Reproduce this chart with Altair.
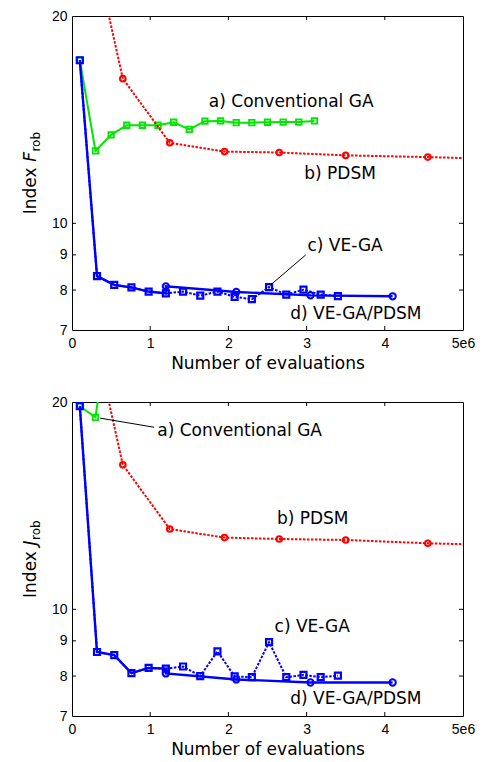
import altair as alt
import pandas as pd

# ---------------- data ----------------
ga_x = [0.1e6, 0.3e6, 0.5e6, 0.7e6, 0.9e6, 1.1e6, 1.3e6, 1.5e6, 1.7e6, 1.9e6,
        2.1e6, 2.3e6, 2.5e6, 2.7e6, 2.9e6, 3.1e6]
ga_F = [17.25, 12.74, 13.44, 13.88, 13.88, 13.88, 14.02, 13.69, 14.07, 14.08,
        14.00, 14.00, 14.02, 14.03, 14.03, 14.08]
ga_J = [19.72, 19.00, 27.5, 28.4, 28.8, 29.0, 28.9, 29.1, 29.0, 29.2,
        29.1, 29.2, 29.3, 29.2, 29.3, 29.3]

pdsm_x = [0.1e6, 0.65e6, 1.25e6, 1.95e6, 2.65e6, 3.5e6, 4.55e6, 5.6e6]
pdsm_F = [31.0, 16.22, 13.09, 12.71, 12.67, 12.55, 12.48, 12.38]
pdsm_J = [31.0, 16.21, 13.08, 12.71, 12.65, 12.61, 12.47, 12.38]

vega_x = [0.1e6, 0.32e6, 0.54e6, 0.76e6, 0.98e6, 1.2e6, 1.42e6, 1.64e6,
          1.86e6, 2.08e6, 2.3e6, 2.52e6, 2.74e6, 2.96e6, 3.18e6, 3.4e6]
vega_F = [17.25, 8.38, 8.14, 8.07, 7.96, 7.91, 7.96, 7.85, 7.96, 7.82, 7.76,
          8.08, 7.88, 8.01, 7.88, 7.84]
vega_J = [19.72, 8.67, 8.58, 8.08, 8.22, 8.20, 8.26, 8.00, 8.69, 7.99, 7.97,
          8.96, 7.97, 8.03, 7.97, 8.01]

hyb_shared = 6  # VE-GA/PDSM shares the first VE-GA points, then PDSM (circles)
hyb_x = [1.2e6, 2.1e6, 3.05e6, 4.1e6]
hyb_F = [8.10, 7.95, 7.86, 7.835]
hyb_J = [8.07, 7.91, 7.83, 7.83]

label_text = ["a) Conventional GA", "b) PDSM", "c) VE-GA", "d) VE-GA/PDSM"]
label_x_F = [1.75e6, 2.97e6, 3.01e6, 2.79e6]
label_y_F = [15.0, 11.79, 9.27, 7.39]
label_x_J = [1.09e6, 2.62e6, 2.59e6, 2.79e6]
label_y_J = [18.17, 13.51, 9.43, 7.42]

pointer_F = {"x": [2.99e6], "y": [9.0], "x2": [2.53e6], "y2": [8.12]}
pointer_J = {"x": [1.05e6], "y": [18.38], "x2": [0.36e6], "y2": [18.95]}

x_ticks = [0, 1e6, 2e6, 3e6, 4e6, 5e6]
x_inner_ticks = [1e6, 2e6, 3e6, 4e6]
y_ticks = [7, 8, 9, 10, 20]
y_inner_ticks = [8, 9, 10]

# ---------------- style ----------------
W, H = 391, 314
GREEN = "#00e600"
RED = "#ff0000"
BLUE = "#0000ff"
TEXTFONT = "DejaVu Sans"
TICKFONT = "Liberation Sans"

xscale = alt.Scale(domain=[0, 5e6], nice=False, zero=False)
yscale = alt.Scale(type="log", domain=[7, 20], nice=False)

xaxis = alt.Axis(values=x_ticks,
                 labelExpr="datum.value == 5000000 ? '5e6' : format(datum.value / 1000000, 'd')",
                 tickSize=0, domain=False, grid=False,
                 labelFont=TICKFONT, labelFontSize=14, labelColor="black",
                 labelPadding=6, labelFlush=False,
                 title="Number of evaluations", titleFont=TEXTFONT,
                 titleFontSize=17, titleFontWeight="normal", titleColor="black",
                 titlePadding=5)
yaxis = alt.Axis(values=y_ticks, format="d", tickSize=0, domain=False,
                 grid=False, labelFont=TICKFONT, labelFontSize=14,
                 labelColor="black", labelPadding=5, labelFlush=False,
                 title=None)


def X(f="x"):
    return alt.X(f"{f}:Q", scale=xscale, axis=xaxis)


def Y(f="y"):
    return alt.Y(f"{f}:Q", scale=yscale, axis=yaxis)


def panel(ga_y, pdsm_y, vega_y, hyb_y, lab_x, lab_y, pointer, letter):
    ga = pd.DataFrame({"x": ga_x, "y": ga_y})
    pdsm = pd.DataFrame({"x": pdsm_x, "y": pdsm_y})
    vega = pd.DataFrame({"x": vega_x, "y": vega_y})
    hx = vega_x[:hyb_shared] + hyb_x
    hy = vega_y[:hyb_shared] + hyb_y
    hyb = pd.DataFrame({"x": hx, "y": hy, "o": list(range(len(hx)))})
    hcirc = pd.DataFrame({"x": hyb_x, "y": hyb_y})
    labs = pd.DataFrame({"x": lab_x, "y": lab_y, "t": label_text})
    ptr = pd.DataFrame(pointer)
    xt = pd.DataFrame({"x": x_inner_ticks})
    yt = pd.DataFrame({"y": y_inner_ticks})

    layers = []
    layers.append(alt.Chart(ga).mark_line(color=GREEN, strokeWidth=2, clip=True)
                  .encode(x=X(), y=Y()))
    layers.append(alt.Chart(ga).mark_point(shape="square", filled=False, size=30,
                                           strokeWidth=1.8, color=GREEN, opacity=1, clip=True)
                  .encode(x=X(), y=Y()))
    layers.append(alt.Chart(pdsm).mark_line(color=RED, strokeWidth=2,
                                            strokeDash=[2.5, 1.5], clip=True)
                  .encode(x=X(), y=Y()))
    layers.append(alt.Chart(pdsm).mark_point(shape="circle", filled=False, size=32,
                                             strokeWidth=2, color=RED, opacity=1, clip=True)
                  .encode(x=X(), y=Y()))
    layers.append(alt.Chart(vega).mark_line(color=BLUE, strokeWidth=2,
                                            strokeDash=[2.5, 1.5], clip=True)
                  .encode(x=X(), y=Y()))
    layers.append(alt.Chart(hyb).mark_line(color=BLUE, strokeWidth=2.4, clip=True)
                  .encode(x=X(), y=Y(), order="o:Q"))
    layers.append(alt.Chart(vega).mark_point(shape="square", filled=False, size=36,
                                             strokeWidth=2.2, color=BLUE, opacity=1, clip=True)
                  .encode(x=X(), y=Y()))
    layers.append(alt.Chart(hcirc).mark_point(shape="circle", filled=False, size=40,
                                              strokeWidth=2, color=BLUE, opacity=1, clip=True)
                  .encode(x=X(), y=Y()))
    layers.append(alt.Chart(ptr).mark_rule(color="black", strokeWidth=1)
                  .encode(x=X(), y=Y(), x2="x2:Q", y2="y2:Q"))
    layers.append(alt.Chart(labs).mark_text(align="left", baseline="middle",
                                            font=TEXTFONT, fontSize=17, color="black")
                  .encode(x=X(), y=Y(), text="t:N"))
    # inward ticks (box style)
    layers.append(alt.Chart(xt).mark_rule(color="black", strokeWidth=1)
                  .encode(x=X(), y=alt.value(H), y2=alt.value(H - 4)))
    layers.append(alt.Chart(xt).mark_rule(color="black", strokeWidth=1)
                  .encode(x=X(), y=alt.value(0), y2=alt.value(4)))
    layers.append(alt.Chart(yt).mark_rule(color="black", strokeWidth=1)
                  .encode(y=Y(), x=alt.value(0), x2=alt.value(4)))
    layers.append(alt.Chart(yt).mark_rule(color="black", strokeWidth=1)
                  .encode(y=Y(), x=alt.value(W - 4), x2=alt.value(W)))
    # y title: "Index " + italic letter + subscript "rob"
    lw = 5.5 if letter == "J" else 10.3
    start = H / 2 + (52.5 + lw + 19.9) / 2
    layers.append(alt.Chart(pd.DataFrame({"t": ["Index"]}))
                  .mark_text(align="left", baseline="alphabetic", angle=270,
                             font=TEXTFONT, fontSize=17, color="black")
                  .encode(text="t:N", x=alt.value(-36), y=alt.value(start)))
    layers.append(alt.Chart(pd.DataFrame({"t": [letter]}))
                  .mark_text(align="left", baseline="alphabetic", angle=270,
                             font=TEXTFONT, fontSize=17, fontStyle="italic", color="black")
                  .encode(text="t:N", x=alt.value(-36), y=alt.value(start - 52.5)))
    layers.append(alt.Chart(pd.DataFrame({"t": ["rob"]}))
                  .mark_text(align="left", baseline="alphabetic", angle=270,
                             font=TEXTFONT, fontSize=12, color="black")
                  .encode(text="t:N", x=alt.value(-32), y=alt.value(start - 52.5 - lw)))
    return alt.layer(*layers).properties(width=W, height=H)


top = panel(ga_F, pdsm_F, vega_F, hyb_F, label_x_F, label_y_F, pointer_F, "F")
bottom = panel(ga_J, pdsm_J, vega_J, hyb_J, label_x_J, label_y_J, pointer_J, "J")

chart = (alt.vconcat(top, bottom, spacing=22)
         .properties(padding={"left": 13, "top": 0, "right": 0, "bottom": 0},
                     background="white")
         .configure_view(stroke="black", strokeWidth=1)
         .configure_concat(spacing=22))

chart.save("out.html", embed_options={"renderer": "svg", "actions": False})
